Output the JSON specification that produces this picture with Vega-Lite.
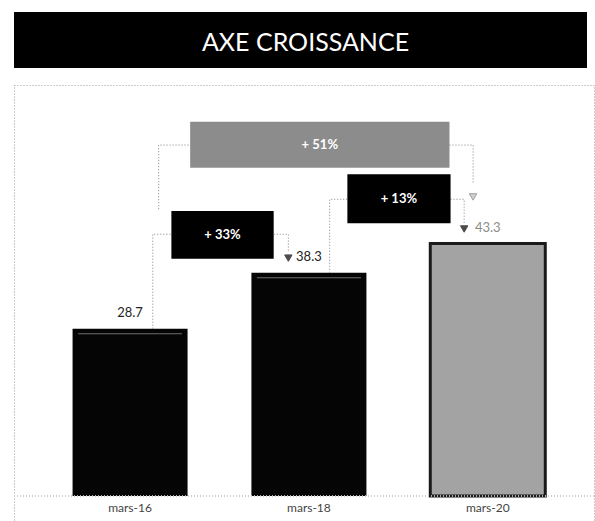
{
  "$schema": "https://vega.github.io/schema/vega-lite/v6.json",
  "padding": {"left": 13, "top": 12, "right": 0, "bottom": 0},
  "spacing": 16,
  "config": {"view": {"stroke": "#999999", "strokeDash": [1, 2], "strokeWidth": 1}, "font": "Lato"},
  "datasets": {
    "bars": [
      {"period": "mars-16", "idx": 1, "value": 28.7},
      {"period": "mars-18", "idx": 2, "value": 38.3},
      {"period": "mars-20", "idx": 3, "value": 43.3}
    ],
    "boxes": [
      {"label": "+ 33%", "kind": "dark", "x1": 1.231, "x2": 1.803, "y1": 40.7, "y2": 48.9, "xm": 1.517, "ym": 44.8},
      {"label": "+ 13%", "kind": "dark", "x1": 2.215, "x2": 2.792, "y1": 46.8, "y2": 55.2, "xm": 2.503, "ym": 51.0},
      {"label": "+ 51%", "kind": "gray", "x1": 1.336, "x2": 2.786, "y1": 56.3, "y2": 64.2, "xm": 2.061, "ym": 60.25}
    ],
    "connectors": [
      {"c": "A1", "o": 1, "x": 1.127, "y": 28.7},
      {"c": "A1", "o": 2, "x": 1.127, "y": 44.9},
      {"c": "A1", "o": 3, "x": 1.231, "y": 44.9},
      {"c": "A2", "o": 1, "x": 1.803, "y": 44.9},
      {"c": "A2", "o": 2, "x": 1.885, "y": 44.9},
      {"c": "A2", "o": 3, "x": 1.885, "y": 42.0},
      {"c": "B1", "o": 1, "x": 2.116, "y": 38.3},
      {"c": "B1", "o": 2, "x": 2.116, "y": 50.9},
      {"c": "B1", "o": 3, "x": 2.215, "y": 50.9},
      {"c": "B2", "o": 1, "x": 2.792, "y": 50.9},
      {"c": "B2", "o": 2, "x": 2.868, "y": 50.9},
      {"c": "B2", "o": 3, "x": 2.868, "y": 46.9},
      {"c": "C1", "o": 1, "x": 1.160, "y": 49.2},
      {"c": "C1", "o": 2, "x": 1.160, "y": 60.2},
      {"c": "C1", "o": 3, "x": 1.336, "y": 60.2},
      {"c": "C2", "o": 1, "x": 2.786, "y": 60.2},
      {"c": "C2", "o": 2, "x": 2.918, "y": 60.2},
      {"c": "C2", "o": 3, "x": 2.918, "y": 53.5}
    ],
    "arrows": [
      {"kind": "dark", "x": 1.885, "y": 40.8},
      {"kind": "dark", "x": 2.868, "y": 45.8},
      {"kind": "light", "x": 2.918, "y": 51.3}
    ]
  },
  "vconcat": [
    {
      "width": 573,
      "height": 56,
      "view": {"fill": "#000000", "stroke": null},
      "data": {"values": [{"title": "AXE CROISSANCE", "px": 0.5, "py": 0.5}]},
      "mark": {"type": "text", "color": "#ffffff", "fontSize": 25, "font": "Lato", "align": "center", "baseline": "middle", "dx": 5, "dy": 3},
      "encoding": {
        "text": {"field": "title", "type": "nominal"},
        "x": {"field": "px", "type": "quantitative", "scale": {"domain": [0, 1]}, "axis": null},
        "y": {"field": "py", "type": "quantitative", "scale": {"domain": [0, 1]}, "axis": null}
      }
    },
    {
      "width": 580,
      "height": 437,
      "layer": [
        {
          "data": {"name": "bars"},
          "mark": {"type": "bar", "width": 115, "stroke": "#1a1a1a"},
          "encoding": {
            "x": {"field": "idx", "type": "quantitative", "scale": {"domain": [0.379, 3.566], "nice": false, "zero": false}, "axis": null},
            "y": {"field": "value", "type": "quantitative", "scale": {"domain": [-4.46, 70.5], "nice": false, "zero": false}, "axis": null},
            "y2": {"datum": 0},
            "color": {"condition": {"test": "datum.period === 'mars-20'", "value": "#a3a3a3"}, "value": "#050505"},
            "strokeWidth": {"condition": {"test": "datum.period === 'mars-20'", "value": 3}, "value": 0}
          }
        },
        {
          "data": {"name": "bars"},
          "mark": {"type": "rule", "color": "#c8c8c8", "strokeDash": [1, 2], "strokeWidth": 1},
          "encoding": {
            "y": {"datum": 0, "type": "quantitative", "axis": null}
          }
        },
        {
          "data": {"name": "bars"},
          "transform": [{"filter": "datum.period !== 'mars-20'"}],
          "mark": {"type": "tick", "orient": "horizontal", "size": 104, "thickness": 1, "color": "#9a9a9a", "yOffset": 5},
          "encoding": {
            "x": {"field": "idx", "type": "quantitative", "axis": null},
            "y": {"field": "value", "type": "quantitative", "axis": null}
          }
        },
        {
          "data": {"name": "bars"},
          "mark": {"type": "text", "fontSize": 13, "baseline": "middle", "align": "center", "dy": -16},
          "encoding": {
            "x": {"field": "idx", "type": "quantitative", "axis": null},
            "y": {"field": "value", "type": "quantitative", "axis": null},
            "text": {"field": "value", "type": "quantitative", "format": ".1f"},
            "color": {"condition": {"test": "datum.period === 'mars-20'", "value": "#8a8a8a"}, "value": "#222222"}
          }
        },
        {
          "data": {"name": "bars"},
          "mark": {"type": "text", "fontSize": 12, "baseline": "middle", "align": "center", "dy": 12, "color": "#444444"},
          "encoding": {
            "x": {"field": "idx", "type": "quantitative", "axis": null},
            "y": {"datum": 0, "type": "quantitative", "axis": null},
            "text": {"field": "period", "type": "nominal"}
          }
        },
        {
          "data": {"name": "connectors"},
          "mark": {"type": "line", "color": "#808080", "strokeDash": [1, 2], "strokeWidth": 1},
          "encoding": {
            "x": {"field": "x", "type": "quantitative", "axis": null},
            "y": {"field": "y", "type": "quantitative", "axis": null},
            "detail": {"field": "c", "type": "nominal"},
            "order": {"field": "o", "type": "quantitative"}
          }
        },
        {
          "data": {"name": "arrows"},
          "mark": {"type": "point", "shape": "triangle-down", "filled": true, "size": 55, "strokeWidth": 1},
          "encoding": {
            "x": {"field": "x", "type": "quantitative", "axis": null},
            "y": {"field": "y", "type": "quantitative", "axis": null},
            "fill": {"condition": {"test": "datum.kind === 'light'", "value": "#bdbdbd"}, "value": "#000000"},
            "stroke": {"condition": {"test": "datum.kind === 'light'", "value": "#777777"}, "value": "#000000"}
          }
        },
        {
          "data": {"name": "boxes"},
          "mark": {"type": "rect"},
          "encoding": {
            "x": {"field": "x1", "type": "quantitative", "axis": null},
            "x2": {"field": "x2"},
            "y": {"field": "y1", "type": "quantitative", "axis": null},
            "y2": {"field": "y2"},
            "fill": {"condition": {"test": "datum.kind === 'gray'", "value": "#8c8c8c"}, "value": "#000000"}
          }
        },
        {
          "data": {"name": "boxes"},
          "mark": {"type": "text", "color": "#ffffff", "fontSize": 13, "fontWeight": "bold", "align": "center", "baseline": "middle"},
          "encoding": {
            "x": {"field": "xm", "type": "quantitative", "axis": null},
            "y": {"field": "ym", "type": "quantitative", "axis": null},
            "text": {"field": "label", "type": "nominal"}
          }
        }
      ]
    }
  ]
}
